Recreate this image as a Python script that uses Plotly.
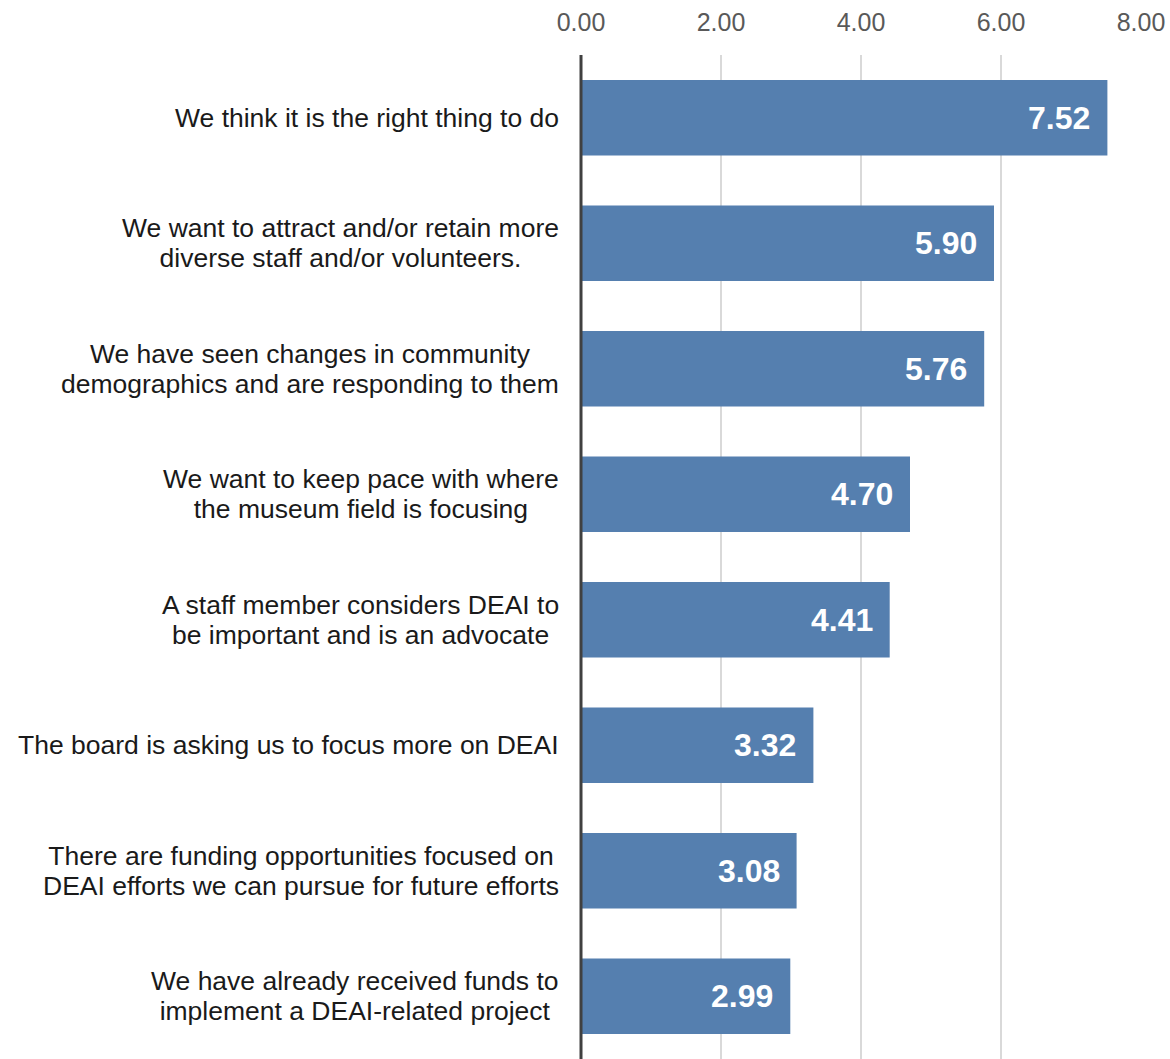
import plotly.graph_objects as go

# Reasons for DEAI focus, with their average scores
reasons = [
    "We think it is the right thing to do",
    "We want to attract and/or retain more<br>diverse staff and/or volunteers.",
    "We have seen changes in community<br>demographics and are responding to them",
    "We want to keep pace with where<br>the museum field is focusing",
    "A staff member considers DEAI to<br>be important and is an advocate",
    "The board is asking us to focus more on DEAI",
    "There are funding opportunities focused on<br>DEAI efforts we can pursue for future efforts",
    "We have already received funds to<br>implement a DEAI-related project",
]
scores = [7.52, 5.90, 5.76, 4.70, 4.41, 3.32, 3.08, 2.99]
tick_values = [0, 2, 4, 6, 8]
tick_labels = ["0.00", "2.00", "4.00", "6.00", "8.00"]

FONT = "Liberation Sans, Arial, sans-serif"
BAR_COLOR = "#557FAF"

fig = go.Figure(
    go.Bar(
        x=scores,
        y=reasons,
        orientation="h",
        marker=dict(color=BAR_COLOR, line=dict(width=0)),
        hovertemplate="%{x:.2f}<extra></extra>",
    )
)

# Category labels: lines centred on each other, right edge next to the axis.
# The base font sets the (tighter) line pitch; the spans set the glyph size.
def styled(label, px=26.5):
    return "<br>".join(
        f"<span style='font-size:{px}px'>{line}</span>" for line in label.split("<br>")
    )

for r in reasons:
    fig.add_annotation(
        x=0, xref="paper", y=r, yref="y",
        text=styled(r), showarrow=False,
        xanchor="right", yanchor="middle", align="center",
        xshift=-20,
        font=dict(family=FONT, size=23, color="#1a1a1a"),
    )

# Value labels inside the bar ends
for r, v in zip(reasons, scores):
    fig.add_annotation(
        x=v, xref="x", y=r, yref="y",
        text=f"{v:.2f}", showarrow=False,
        xanchor="right", yanchor="middle", xshift=-15,
        font=dict(family=FONT, size=32, color="white", weight="bold"),
    )

fig.update_layout(
    width=1170, height=1059,
    margin=dict(l=581, r=29, t=55, b=0),
    paper_bgcolor="white", plot_bgcolor="white",
    bargap=0.4,
    showlegend=False,
    xaxis=dict(
        side="top",
        range=[0, 8],
        tickvals=tick_values,
        ticktext=tick_labels,
        tickfont=dict(family=FONT, size=25, color="#595959"),
        showgrid=True, gridcolor="#D9D9D9", gridwidth=2,
        zeroline=False, showline=False, ticks="",
        ticklabelstandoff=18,
    ),
    yaxis=dict(
        categoryorder="array", categoryarray=reasons,
        autorange="reversed",
        showticklabels=False, showgrid=False, zeroline=False,
        showline=False, ticks="",
    ),
)

# Dark baseline at zero, running the full height of the plot
fig.add_shape(type="line", xref="paper", yref="paper", x0=0, x1=0, y0=0, y1=1,
              line=dict(color="#404040", width=3), layer="above")

fig.write_html("out.html")
